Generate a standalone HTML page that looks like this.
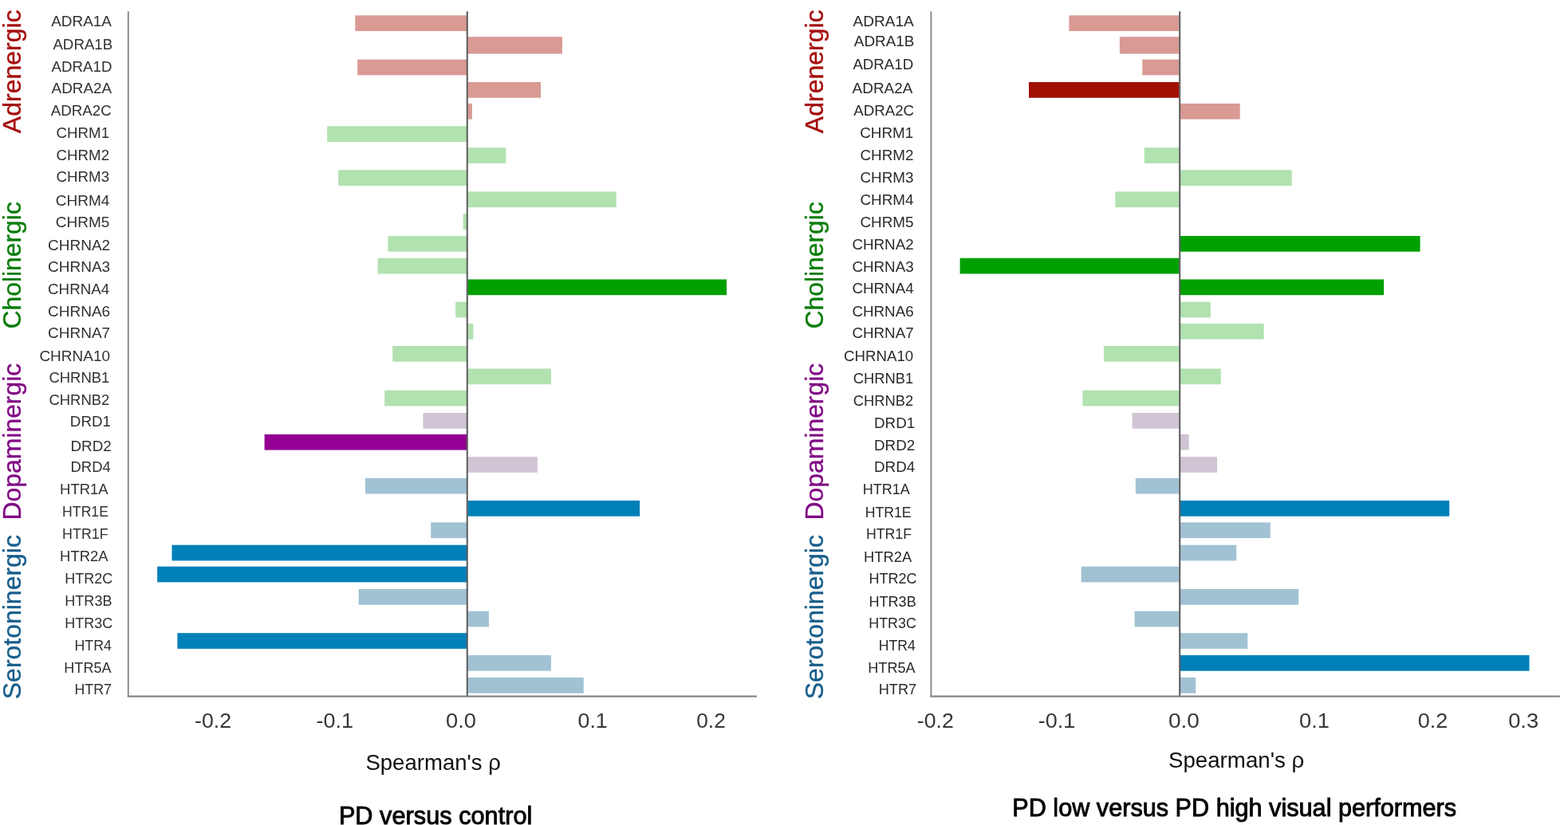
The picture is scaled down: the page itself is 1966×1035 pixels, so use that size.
<!DOCTYPE html>
<html><head><meta charset="utf-8"><title>Spearman correlation bar charts</title>
<style>
html,body{margin:0;padding:0;background:#fff;}
body{width:1966px;height:1035px;overflow:hidden;}
svg{display:block;}
text{font-family:"Liberation Sans",Arial,sans-serif;}
.lab{font-size:19.2px;fill:#313131;}
.labR{font-size:19.2px;fill:#2a2a2a;}
.cat{font-size:32px;stroke-width:0.35px;}
.tick{font-size:26.5px;fill:#383838;}
.axt{font-size:28px;fill:#111;}
.ttl{font-size:32px;fill:#050505;stroke:#050505;stroke-width:0.95px;}
</style></head>
<body>
<svg width="1966" height="1035" viewBox="0 0 1966 1035">
<rect width="1966" height="1035" fill="#fff"/>
<rect x="445.3" y="19.3" width="139.7" height="19.7" fill="#d99a94"/>
<rect x="586.6" y="46.2" width="118.4" height="21.3" fill="#d99a94"/>
<rect x="448.2" y="74.6" width="136.8" height="19.7" fill="#d99a94"/>
<rect x="586.6" y="103.0" width="91.4" height="19.7" fill="#d99a94"/>
<rect x="586.6" y="129.9" width="5.3" height="19.7" fill="#d99a94"/>
<rect x="410.2" y="158.3" width="174.8" height="19.7" fill="#b1e2b0"/>
<rect x="586.6" y="185.2" width="47.8" height="19.7" fill="#b1e2b0"/>
<rect x="424.2" y="213.3" width="160.8" height="19.7" fill="#b1e2b0"/>
<rect x="586.6" y="240.4" width="186.2" height="19.7" fill="#b1e2b0"/>
<rect x="580.7" y="268.2" width="4.3" height="19.7" fill="#b1e2b0"/>
<rect x="486.4" y="296.0" width="98.6" height="19.7" fill="#b1e2b0"/>
<rect x="473.6" y="323.8" width="111.4" height="19.7" fill="#b1e2b0"/>
<rect x="586.6" y="350.5" width="324.5" height="19.7" fill="#00a000"/>
<rect x="571.2" y="378.7" width="13.8" height="19.7" fill="#b1e2b0"/>
<rect x="586.6" y="406.0" width="6.8" height="19.7" fill="#b1e2b0"/>
<rect x="492.2" y="434.0" width="92.8" height="19.7" fill="#b1e2b0"/>
<rect x="586.6" y="462.5" width="104.3" height="19.7" fill="#b1e2b0"/>
<rect x="482.2" y="489.7" width="102.8" height="19.7" fill="#b1e2b0"/>
<rect x="530.4" y="518.0" width="54.6" height="19.7" fill="#d1c4d4"/>
<rect x="331.6" y="544.9" width="253.4" height="19.7" fill="#930093"/>
<rect x="586.6" y="573.1" width="87.3" height="19.7" fill="#d1c4d4"/>
<rect x="458.0" y="599.8" width="127.0" height="19.7" fill="#a1c2d3"/>
<rect x="586.6" y="628.0" width="215.6" height="19.7" fill="#0080b9"/>
<rect x="540.2" y="655.4" width="44.8" height="19.7" fill="#a1c2d3"/>
<rect x="215.5" y="683.7" width="369.5" height="19.7" fill="#0080b9"/>
<rect x="197.2" y="710.7" width="387.8" height="19.7" fill="#0080b9"/>
<rect x="449.7" y="739.0" width="135.3" height="19.7" fill="#a1c2d3"/>
<rect x="586.6" y="766.7" width="26.4" height="19.7" fill="#a1c2d3"/>
<rect x="222.4" y="794.2" width="362.6" height="19.7" fill="#0080b9"/>
<rect x="586.6" y="822.0" width="104.3" height="19.7" fill="#a1c2d3"/>
<rect x="586.6" y="850.0" width="145.2" height="19.7" fill="#a1c2d3"/>
<rect x="1340.4" y="19.3" width="138.0" height="19.7" fill="#d99a94"/>
<rect x="1403.9" y="46.2" width="74.5" height="21.3" fill="#d99a94"/>
<rect x="1432.3" y="74.6" width="46.1" height="19.7" fill="#d99a94"/>
<rect x="1290.0" y="103.0" width="188.4" height="19.7" fill="#a01000"/>
<rect x="1480.0" y="129.9" width="74.7" height="19.7" fill="#d99a94"/>
<rect x="1434.8" y="185.2" width="43.6" height="19.7" fill="#b1e2b0"/>
<rect x="1480.0" y="213.3" width="139.7" height="19.7" fill="#b1e2b0"/>
<rect x="1398.3" y="240.4" width="80.1" height="19.7" fill="#b1e2b0"/>
<rect x="1480.0" y="296.0" width="300.6" height="19.7" fill="#00a000"/>
<rect x="1203.6" y="323.8" width="274.8" height="19.7" fill="#00a000"/>
<rect x="1480.0" y="350.5" width="255.1" height="19.7" fill="#00a000"/>
<rect x="1480.0" y="378.7" width="37.9" height="19.7" fill="#b1e2b0"/>
<rect x="1480.0" y="406.0" width="104.6" height="19.7" fill="#b1e2b0"/>
<rect x="1383.9" y="434.0" width="94.5" height="19.7" fill="#b1e2b0"/>
<rect x="1480.0" y="462.5" width="50.8" height="19.7" fill="#b1e2b0"/>
<rect x="1357.4" y="489.7" width="121.0" height="19.7" fill="#b1e2b0"/>
<rect x="1419.6" y="518.0" width="58.8" height="19.7" fill="#d1c4d4"/>
<rect x="1480.0" y="544.9" width="10.7" height="19.7" fill="#d1c4d4"/>
<rect x="1480.0" y="573.1" width="46.1" height="19.7" fill="#d1c4d4"/>
<rect x="1423.8" y="599.8" width="54.6" height="19.7" fill="#a1c2d3"/>
<rect x="1480.0" y="628.0" width="337.2" height="19.7" fill="#0080b9"/>
<rect x="1480.0" y="655.4" width="112.8" height="19.7" fill="#a1c2d3"/>
<rect x="1480.0" y="683.7" width="70.3" height="19.7" fill="#a1c2d3"/>
<rect x="1355.7" y="710.7" width="122.7" height="19.7" fill="#a1c2d3"/>
<rect x="1480.0" y="739.0" width="148.1" height="19.7" fill="#a1c2d3"/>
<rect x="1422.6" y="766.7" width="55.8" height="19.7" fill="#a1c2d3"/>
<rect x="1480.0" y="794.2" width="84.3" height="19.7" fill="#a1c2d3"/>
<rect x="1480.0" y="822.0" width="437.5" height="19.7" fill="#0080b9"/>
<rect x="1480.0" y="850.0" width="19.3" height="19.7" fill="#a1c2d3"/>
<line x1="160.8" y1="14.3" x2="160.8" y2="874" stroke="#8c8c8c" stroke-width="2"/>
<line x1="585.8" y1="14.3" x2="585.8" y2="873" stroke="#5a5a5a" stroke-width="2"/>
<line x1="159.8" y1="873.7" x2="949" y2="873.7" stroke="#868686" stroke-width="2.2"/>
<line x1="1167.4" y1="14.3" x2="1167.4" y2="874" stroke="#8c8c8c" stroke-width="2"/>
<line x1="1479.2" y1="14.3" x2="1479.2" y2="873" stroke="#5a5a5a" stroke-width="2"/>
<line x1="1166.4" y1="873.7" x2="1955.8" y2="873.7" stroke="#868686" stroke-width="2.2"/>
<text id="Lg0" class="lab" x="64.19" y="33.05" textLength="75.78" lengthAdjust="spacingAndGlyphs">ADRA1A</text>
<text id="Lg1" class="lab" x="66.40" y="61.55" textLength="74.86" lengthAdjust="spacingAndGlyphs">ADRA1B</text>
<text id="Lg2" class="lab" x="64.59" y="90.05" textLength="75.85" lengthAdjust="spacingAndGlyphs">ADRA1D</text>
<text id="Lg3" class="lab" x="64.60" y="116.60" textLength="75.58" lengthAdjust="spacingAndGlyphs">ADRA2A</text>
<text id="Lg4" class="lab" x="63.79" y="145.00" textLength="75.92" lengthAdjust="spacingAndGlyphs">ADRA2C</text>
<text id="Lg5" class="lab" x="70.62" y="172.60" textLength="66.50" lengthAdjust="spacingAndGlyphs">CHRM1</text>
<text id="Lg6" class="lab" x="70.62" y="200.60" textLength="66.50" lengthAdjust="spacingAndGlyphs">CHRM2</text>
<text id="Lg7" class="lab" x="70.62" y="228.20" textLength="66.50" lengthAdjust="spacingAndGlyphs">CHRM3</text>
<text id="Lg8" class="lab" x="69.81" y="257.90" textLength="67.62" lengthAdjust="spacingAndGlyphs">CHRM4</text>
<text id="Lg9" class="lab" x="69.81" y="284.90" textLength="67.62" lengthAdjust="spacingAndGlyphs">CHRM5</text>
<text id="Lg10" class="lab" x="60.01" y="313.90" textLength="78.19" lengthAdjust="spacingAndGlyphs">CHRNA2</text>
<text id="Lg11" class="lab" x="60.01" y="341.40" textLength="78.19" lengthAdjust="spacingAndGlyphs">CHRNA3</text>
<text id="Lg12" class="lab" x="60.02" y="368.50" textLength="77.19" lengthAdjust="spacingAndGlyphs">CHRNA4</text>
<text id="Lg13" class="lab" x="60.01" y="397.00" textLength="78.19" lengthAdjust="spacingAndGlyphs">CHRNA6</text>
<text id="Lg14" class="lab" x="60.01" y="424.10" textLength="78.19" lengthAdjust="spacingAndGlyphs">CHRNA7</text>
<text id="Lg15" class="lab" x="49.41" y="452.70" textLength="88.66" lengthAdjust="spacingAndGlyphs">CHRNA10</text>
<text id="Lg16" class="lab" x="61.43" y="480.30" textLength="75.97" lengthAdjust="spacingAndGlyphs">CHRNB1</text>
<text id="Lg17" class="lab" x="61.43" y="507.80" textLength="75.97" lengthAdjust="spacingAndGlyphs">CHRNB2</text>
<text id="Lg18" class="lab" x="87.84" y="535.30" textLength="51.10" lengthAdjust="spacingAndGlyphs">DRD1</text>
<text id="Lg19" class="lab" x="88.42" y="565.70" textLength="51.41" lengthAdjust="spacingAndGlyphs">DRD2</text>
<text id="Lg20" class="lab" x="88.45" y="592.40" textLength="50.41" lengthAdjust="spacingAndGlyphs">DRD4</text>
<text id="Lg21" class="lab" x="75.05" y="619.90" textLength="60.64" lengthAdjust="spacingAndGlyphs">HTR1A</text>
<text id="Lg22" class="lab" x="78.12" y="648.20" textLength="57.85" lengthAdjust="spacingAndGlyphs">HTR1E</text>
<text id="Lg23" class="lab" x="78.11" y="675.90" textLength="57.50" lengthAdjust="spacingAndGlyphs">HTR1F</text>
<text id="Lg24" class="lab" x="75.05" y="704.20" textLength="60.64" lengthAdjust="spacingAndGlyphs">HTR2A</text>
<text id="Lg25" class="lab" x="81.26" y="731.90" textLength="59.94" lengthAdjust="spacingAndGlyphs">HTR2C</text>
<text id="Lg26" class="lab" x="81.25" y="760.20" textLength="59.30" lengthAdjust="spacingAndGlyphs">HTR3B</text>
<text id="Lg27" class="lab" x="81.26" y="788.20" textLength="59.94" lengthAdjust="spacingAndGlyphs">HTR3C</text>
<text id="Lg28" class="lab" x="93.46" y="815.80" textLength="46.43" lengthAdjust="spacingAndGlyphs">HTR4</text>
<text id="Lg29" class="lab" x="80.25" y="844.00" textLength="59.36" lengthAdjust="spacingAndGlyphs">HTR5A</text>
<text id="Lg30" class="lab" x="93.46" y="871.30" textLength="46.43" lengthAdjust="spacingAndGlyphs">HTR7</text>
<text id="Lc0" class="cat" fill="#a50d0d" stroke="#a50d0d" transform="translate(25.50,167.20) rotate(-90)" x="0" y="0" textLength="154.85" lengthAdjust="spacingAndGlyphs">Adrenergic</text>
<text id="Lc1" class="cat" fill="#087c08" stroke="#087c08" transform="translate(25.50,412.60) rotate(-90)" x="0" y="0" textLength="159.47" lengthAdjust="spacingAndGlyphs">Cholinergic</text>
<text id="Lc2" class="cat" fill="#810a84" stroke="#810a84" transform="translate(25.50,652.39) rotate(-90)" x="0" y="0" textLength="196.61" lengthAdjust="spacingAndGlyphs">Dopaminergic</text>
<text id="Lc3" class="cat" fill="#175d8b" stroke="#175d8b" transform="translate(25.50,877.20) rotate(-90)" x="0" y="0" textLength="206.14" lengthAdjust="spacingAndGlyphs">Serotoninergic</text>
<text id="Rg0" class="labR" x="1069.60" y="33.05" textLength="76.08" lengthAdjust="spacingAndGlyphs">ADRA1A</text>
<text id="Rg1" class="labR" x="1070.79" y="58.10" textLength="75.57" lengthAdjust="spacingAndGlyphs">ADRA1B</text>
<text id="Rg2" class="labR" x="1069.39" y="86.90" textLength="75.85" lengthAdjust="spacingAndGlyphs">ADRA1D</text>
<text id="Rg3" class="labR" x="1068.60" y="117.20" textLength="75.78" lengthAdjust="spacingAndGlyphs">ADRA2A</text>
<text id="Rg4" class="labR" x="1070.20" y="145.20" textLength="75.92" lengthAdjust="spacingAndGlyphs">ADRA2C</text>
<text id="Rg5" class="labR" x="1078.22" y="172.50" textLength="67.01" lengthAdjust="spacingAndGlyphs">CHRM1</text>
<text id="Rg6" class="labR" x="1078.41" y="201.20" textLength="67.11" lengthAdjust="spacingAndGlyphs">CHRM2</text>
<text id="Rg7" class="labR" x="1078.41" y="229.00" textLength="67.11" lengthAdjust="spacingAndGlyphs">CHRM3</text>
<text id="Rg8" class="labR" x="1078.41" y="257.30" textLength="67.11" lengthAdjust="spacingAndGlyphs">CHRM4</text>
<text id="Rg9" class="labR" x="1078.41" y="284.60" textLength="67.11" lengthAdjust="spacingAndGlyphs">CHRM5</text>
<text id="Rg10" class="labR" x="1068.41" y="313.30" textLength="77.29" lengthAdjust="spacingAndGlyphs">CHRNA2</text>
<text id="Rg11" class="labR" x="1068.41" y="340.90" textLength="77.29" lengthAdjust="spacingAndGlyphs">CHRNA3</text>
<text id="Rg12" class="labR" x="1068.41" y="368.10" textLength="77.29" lengthAdjust="spacingAndGlyphs">CHRNA4</text>
<text id="Rg13" class="labR" x="1068.41" y="396.50" textLength="77.29" lengthAdjust="spacingAndGlyphs">CHRNA6</text>
<text id="Rg14" class="labR" x="1068.41" y="423.70" textLength="77.29" lengthAdjust="spacingAndGlyphs">CHRNA7</text>
<text id="Rg15" class="labR" x="1058.01" y="452.70" textLength="87.16" lengthAdjust="spacingAndGlyphs">CHRNA10</text>
<text id="Rg16" class="labR" x="1069.83" y="480.70" textLength="75.26" lengthAdjust="spacingAndGlyphs">CHRNB1</text>
<text id="Rg17" class="labR" x="1069.83" y="508.70" textLength="75.26" lengthAdjust="spacingAndGlyphs">CHRNB2</text>
<text id="Rg18" class="labR" x="1096.03" y="536.60" textLength="51.20" lengthAdjust="spacingAndGlyphs">DRD1</text>
<text id="Rg19" class="labR" x="1096.03" y="565.20" textLength="51.20" lengthAdjust="spacingAndGlyphs">DRD2</text>
<text id="Rg20" class="labR" x="1096.03" y="592.20" textLength="51.20" lengthAdjust="spacingAndGlyphs">DRD4</text>
<text id="Rg21" class="labR" x="1081.67" y="619.80" textLength="59.15" lengthAdjust="spacingAndGlyphs">HTR1A</text>
<text id="Rg22" class="labR" x="1084.69" y="648.60" textLength="57.96" lengthAdjust="spacingAndGlyphs">HTR1E</text>
<text id="Rg23" class="labR" x="1085.92" y="676.10" textLength="57.09" lengthAdjust="spacingAndGlyphs">HTR1F</text>
<text id="Rg24" class="labR" x="1083.07" y="704.50" textLength="60.12" lengthAdjust="spacingAndGlyphs">HTR2A</text>
<text id="Rg25" class="labR" x="1089.45" y="732.10" textLength="60.15" lengthAdjust="spacingAndGlyphs">HTR2C</text>
<text id="Rg26" class="labR" x="1089.45" y="760.60" textLength="59.30" lengthAdjust="spacingAndGlyphs">HTR3B</text>
<text id="Rg27" class="labR" x="1089.30" y="788.20" textLength="59.53" lengthAdjust="spacingAndGlyphs">HTR3C</text>
<text id="Rg28" class="labR" x="1101.70" y="815.60" textLength="46.02" lengthAdjust="spacingAndGlyphs">HTR4</text>
<text id="Rg29" class="labR" x="1088.25" y="844.10" textLength="59.36" lengthAdjust="spacingAndGlyphs">HTR5A</text>
<text id="Rg30" class="labR" x="1101.66" y="871.40" textLength="47.50" lengthAdjust="spacingAndGlyphs">HTR7</text>
<text id="Rc0" class="cat" fill="#a50d0d" stroke="#a50d0d" transform="translate(1032.10,167.20) rotate(-90)" x="0" y="0" textLength="154.85" lengthAdjust="spacingAndGlyphs">Adrenergic</text>
<text id="Rc1" class="cat" fill="#087c08" stroke="#087c08" transform="translate(1032.10,412.60) rotate(-90)" x="0" y="0" textLength="159.47" lengthAdjust="spacingAndGlyphs">Cholinergic</text>
<text id="Rc2" class="cat" fill="#810a84" stroke="#810a84" transform="translate(1032.10,652.39) rotate(-90)" x="0" y="0" textLength="196.61" lengthAdjust="spacingAndGlyphs">Dopaminergic</text>
<text id="Rc3" class="cat" fill="#175d8b" stroke="#175d8b" transform="translate(1032.10,877.20) rotate(-90)" x="0" y="0" textLength="206.14" lengthAdjust="spacingAndGlyphs">Serotoninergic</text>
<text id="Lt0" class="tick" x="244.00" y="913.20" textLength="46.09" lengthAdjust="spacingAndGlyphs">-0.2</text>
<text id="Lt1" class="tick" x="396.58" y="913.20" textLength="46.50" lengthAdjust="spacingAndGlyphs">-0.1</text>
<text id="Lt2" class="tick" x="558.98" y="913.20" textLength="37.97" lengthAdjust="spacingAndGlyphs">0.0</text>
<text id="Lt3" class="tick" x="724.60" y="913.20" textLength="37.05" lengthAdjust="spacingAndGlyphs">0.1</text>
<text id="Lt4" class="tick" x="873.20" y="913.20" textLength="36.64" lengthAdjust="spacingAndGlyphs">0.2</text>
<text id="Rt0" class="tick" x="1149.79" y="913.00" textLength="45.98" lengthAdjust="spacingAndGlyphs">-0.2</text>
<text id="Rt1" class="tick" x="1301.79" y="913.00" textLength="46.50" lengthAdjust="spacingAndGlyphs">-0.1</text>
<text id="Rt2" class="tick" x="1464.94" y="913.00" textLength="39.05" lengthAdjust="spacingAndGlyphs">0.0</text>
<text id="Rt3" class="tick" x="1628.97" y="913.00" textLength="37.90" lengthAdjust="spacingAndGlyphs">0.1</text>
<text id="Rt4" class="tick" x="1777.79" y="913.00" textLength="37.48" lengthAdjust="spacingAndGlyphs">0.2</text>
<text id="Rt5" class="tick" x="1891.17" y="913.00" textLength="38.00" lengthAdjust="spacingAndGlyphs">0.3</text>
<text id="Lsp" class="axt" x="458.41" y="966.10" textLength="169.53" lengthAdjust="spacingAndGlyphs">Spearman's ρ</text>
<text id="Rsp" class="axt" x="1465.01" y="963.10" textLength="170.22" lengthAdjust="spacingAndGlyphs">Spearman's ρ</text>
<text id="Lttl" class="ttl" x="424.88" y="1033.60" textLength="242.49" lengthAdjust="spacingAndGlyphs">PD versus control</text>
<text id="Rttl" class="ttl" x="1269.26" y="1024.00" textLength="556.87" lengthAdjust="spacingAndGlyphs">PD low versus PD high visual performers</text>
</svg>
</body></html>
